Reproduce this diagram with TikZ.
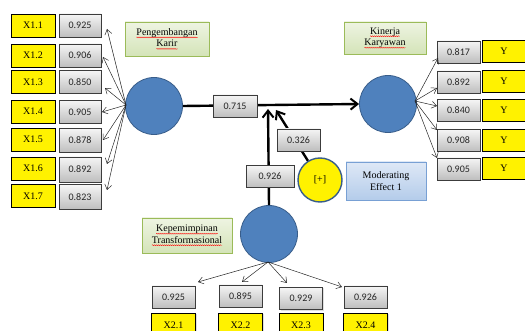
\documentclass[tikz,border=0pt]{standalone}
\usepackage{fontspec}
\setmainfont{Liberation Serif}
\newfontfamily\numfont{Carlito}
\usetikzlibrary{arrows.meta,shadows,decorations.pathmorphing}
\newcommand{\rwave}[1]{\tikz[baseline=(w.base),x=1cm,y=1cm]{\node[inner sep=0pt,outer sep=0pt,minimum width=0pt,minimum height=0pt,anchor=base] (w) {#1};
  \draw[red, line width=0.35pt, decorate, decoration={snake,amplitude=0.5pt,segment length=2pt}]
    ([yshift=-2pt]w.base west) -- ([yshift=-2pt]w.base east);}}
\definecolor{lvblue}{RGB}{79,129,189}
\definecolor{lvborder}{RGB}{56,93,138}
\definecolor{gtop}{RGB}{245,245,245}
\definecolor{gbot}{RGB}{190,190,190}
\definecolor{gborder}{RGB}{60,60,60}
\definecolor{lgtop}{RGB}{238,244,226}
\definecolor{lgbot}{RGB}{212,228,184}
\definecolor{lgborder}{RGB}{155,187,89}
\definecolor{mbtop}{RGB}{222,232,246}
\definecolor{mbbot}{RGB}{180,204,234}
\definecolor{mbborder}{RGB}{120,160,212}
\tikzset{
  ybox/.style={rectangle, draw=black, line width=0.6pt, fill=yellow, inner sep=0pt,
    minimum width=44pt, minimum height=23pt, font=\fontsize{10}{11}\selectfont,
    drop shadow={shadow xshift=1pt, shadow yshift=-1pt, opacity=0.25}},
  gbox/.style={rectangle, draw=gborder, line width=0.6pt, top color=gtop, bottom color=gbot,
    inner sep=0pt, minimum width=43pt, minimum height=22pt, font=\numfont\fontsize{10}{11}\selectfont,
    text=black!85, drop shadow={shadow xshift=1pt, shadow yshift=-1pt, opacity=0.25}},
  lvar/.style={circle, fill=lvblue, draw=lvborder, line width=0.8pt, minimum size=57pt, inner sep=0pt},
  lblbox/.style={rectangle, draw=lgborder, line width=0.6pt, top color=lgtop, bottom color=lgbot,
    inner sep=0pt, align=center, font=\fontsize{10}{11.5}\selectfont,
    drop shadow={shadow xshift=1pt, shadow yshift=-1pt, opacity=0.2}},
  modbox/.style={rectangle, draw=mbborder, line width=0.6pt, top color=mbtop, bottom color=mbbot,
    inner sep=0pt, align=center, font=\fontsize{10}{12.5}\selectfont,
    drop shadow={shadow xshift=1pt, shadow yshift=-1pt, opacity=0.2}},
  thin arrow/.style={-{Straight Barb[length=5pt,width=7pt]}, line width=0.5pt, black!85},
  thick arrow/.style={-{Straight Barb[length=7pt,width=11pt,line width=2pt]}, line width=2.4pt, black},
}
\begin{document}
\begin{tikzpicture}[x=1pt,y=-1pt]
\useasboundingbox (0,0) rectangle (525,331);
% latent variables
\node[lvar] (pk) at (154,106) {};
\node[lvar] (kk) at (388,104) {};
\node[lvar] (kt) at (269,234) {};
\node[circle, fill=yellow, draw=lvborder, line width=1.4pt, minimum size=44pt, inner sep=0pt,
  font=\fontsize{10}{11}\selectfont] (mod) at (320,180) {[+]};
% labels
\node[lblbox, minimum width=84pt, minimum height=34pt] (lpk) at (167,39) {\rwave{Pengembangan}\\\rwave{Karir}};
\node[lblbox, minimum width=82pt, minimum height=32pt] (lkk) at (385,38) {\rwave{Kinerja}\\\rwave{Karyawan}};
\node[lblbox, minimum width=90pt, minimum height=35pt] (lkt) at (187,235.5) {\rwave{Kepemimpinan}\\\rwave{Transformasional}};
\node[modbox, minimum width=80pt, minimum height=38pt] (lmod) at (386,181) {Moderating\\Effect 1};
% left indicators
\foreach \i/\y in {1/25.5, 2/55.5, 3/82, 4/111.5, 5/139.5, 6/168.5, 7/196}{
  \node[ybox] (x1\i) at (33,\y) {X1.\i};
}
\node[gbox, minimum width=42pt, minimum height=23pt] (g11) at (80,25.5) {0.925};
\node[gbox, minimum width=42pt, minimum height=23pt] (g12) at (80,55.5) {0.906};
\node[gbox, minimum width=42pt, minimum height=23pt] (g13) at (80,82) {0.850};
\node[gbox, minimum width=42pt, minimum height=23pt] (g14) at (80,112) {0.905};
\node[gbox, minimum width=42pt, minimum height=24pt] (g15) at (80,140.5) {0.878};
\node[gbox, minimum width=42pt, minimum height=25pt] (g16) at (80,169.5) {0.892};
\node[gbox, minimum width=42pt, minimum height=25pt] (g17) at (80,197) {0.823};
\coordinate (s1) at (126,105);
\coordinate (t11) at (107,29);
\coordinate (t12) at (103,57);
\coordinate (t13) at (105,88);
\coordinate (t14) at (102,112);
\coordinate (t15) at (103,140);
\coordinate (t16) at (107,164);
\coordinate (t17) at (107,190);
\foreach \i in {1,...,7}{ \draw[thin arrow] (s1) -- (t1\i); }
% right indicators
\foreach \j/\y/\v in {1/52/0.817, 2/82/0.892, 3/110.5/0.840, 4/140.5/0.908, 5/169/0.905}{
  \node[gbox] (gy\j) at (458.5,\y) {\v};
  \node[ybox, minimum width=44pt, minimum height=22pt] (y\j) at (504,\y-0.5) {Y};
}
\coordinate (s2) at (415,101);
\coordinate (ty1) at (438,58);
\coordinate (ty2) at (437,88);
\coordinate (ty3) at (437,106);
\coordinate (ty4) at (437,130);
\coordinate (ty5) at (437,158);
\foreach \j in {1,...,5}{ \draw[thin arrow] (s2) -- (ty\j); }
% bottom indicators
\foreach \k/\x/\yy/\v in {1/173.5/297/0.925, 2/240.5/296/0.895, 3/301/298.5/0.929, 4/365.5/297/0.926}{
  \node[gbox] (gb\k) at (\x,\yy) {\v};
  \node[ybox, minimum height=24pt] (x2\k) at (\x,325) {X2.\k};
}
\coordinate (s3) at (268,262);
\coordinate (tb1) at (198,282);
\coordinate (tb2) at (242,282);
\coordinate (tb3) at (287,283);
\coordinate (tb4) at (342,287);
\foreach \k in {1,...,4}{ \draw[thin arrow] (s3) -- (tb\k); }
% structural paths
\coordinate (tv) at (268,109);
\coordinate (tm) at (276,110);
\draw[thick arrow] (pk.east) -- (kk.west);
\draw[thick arrow] (kt.north) -- (tv);
\draw[thick arrow] (mod) -- (tm);
\node[gbox, minimum width=44pt] (p1) at (235,106) {0.715};
\node[gbox, minimum width=48pt] (p2) at (270,176.5) {0.926};
\node[gbox] (p3) at (298.5,140) {0.326};
\end{tikzpicture}
\end{document}
